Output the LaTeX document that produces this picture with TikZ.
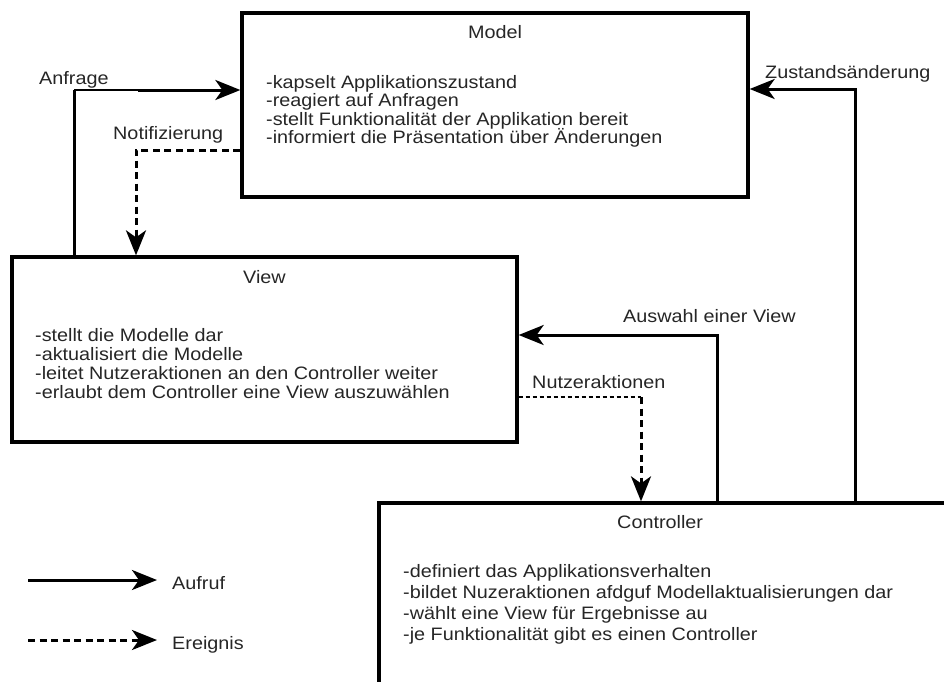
\documentclass[tikz,border=0pt]{standalone}
\usepackage{fontspec}
\setmainfont{Liberation Sans}[FakeStretch=1.1]
\usetikzlibrary{arrows.meta}
\tikzset{
  box/.style={draw, line width=3.3pt, fill=white, inner sep=0pt},
  txt/.style={inner sep=0pt, anchor=base west, text=black!85,
              font=\fontsize{18}{19}\selectfont},
  ttl/.style={txt, anchor=base},
  tip/.style={-{Stealth[length=25pt, width=20pt, inset=7pt]}},
  call/.style={line width=3pt, tip},
  wire/.style={line width=3pt},
  thinwire/.style={line width=1.2pt},
  event/.style={line width=3pt, dash pattern=on 7pt off 4.5pt},
  eventarrow/.style={event, tip},
  thinevent/.style={line width=1.2pt, dash pattern=on 4pt off 3pt},
}
\begin{document}
\begin{tikzpicture}[x=1pt, y=-1pt]
\useasboundingbox (0,0) rectangle (944,681);
\clip (0,0) rectangle (944,681);
\fill[white] (0,0) rectangle (944,681);

% the three components
\node[box, minimum width=506pt, minimum height=184pt] (model) at (495,105) {};
\node[box, minimum width=505pt, minimum height=185pt] (view) at (264.5,349.5) {};
\node[box, minimum width=621pt, minimum height=217pt] (ctrl) at (689.5,611.5) {};

% Model
\node[ttl] (modeltitle) at (495,38) {Model};
\node[txt] (m1) at (266,88)    {-kapselt Applikationszustand};
\node[txt] (m2) at (266,106.5) {-reagiert auf Anfragen};
\node[txt] (m3) at (266,125)   {-stellt Funktionalität der Applikation bereit};
\node[txt] (m4) at (266,143.5) {-informiert die Präsentation über Änderungen};

% View
\node[ttl] (viewtitle) at (264.5,283) {View};
\node[txt] (v1) at (35,341) {-stellt die Modelle dar};
\node[txt] (v2) at (35,360) {-aktualisiert die Modelle};
\node[txt] (v3) at (35,379) {-leitet Nutzeraktionen an den Controller weiter};
\node[txt] (v4) at (35,398) {-erlaubt dem Controller eine View auszuwählen};

% Controller
\node[txt] (ctrltitle) at (617,528) {Controller};
\node[txt] (c1) at (403,577) {-definiert das Applikationsverhalten};
\node[txt] (c2) at (403,598) {-bildet Nuzeraktionen afdguf Modellaktualisierungen dar};
\node[txt] (c3) at (403,619) {-wählt eine View für Ergebnisse au};
\node[txt] (c4) at (403,640) {-je Funktionalität gibt es einen Controller};

% bend points of the connectors
\coordinate (anfk) at (74,90);
\coordinate (anfm) at (138,90);
\coordinate (notk) at (136,150);
\coordinate (zusk) at (855,89);
\coordinate (ausk) at (717,335);
\coordinate (nutk) at (641,397);

% Anfrage: View -> Model
\draw[wire] (anfk |- view.north) -- (anfk);
\draw[thinwire] (anfk) -- (anfm);
\draw[call] (anfm) -- (anfm -| model.west);
\node[txt] (anflabel) at (39,84.5) {Anfrage};

% Notifizierung: Model -> View
\draw[eventarrow] (notk -| model.west) -- (notk) -- (notk |- view.north);
\node[txt] (notlabel) at (113,139) {Notifizierung};

% Zustandsaenderung: Controller -> Model
\draw[call] (zusk |- ctrl.north) -- (zusk) -- (zusk -| model.east);
\node[txt] (zuslabel) at (765,78) {Zustandsänderung};

% Auswahl einer View: Controller -> View
\draw[call] (ausk |- ctrl.north) -- (ausk) -- (ausk -| view.east);
\node[txt] (auslabel) at (623,322) {Auswahl einer View};

% Nutzeraktionen: View -> Controller
\draw[thinevent] (nutk -| view.east) -- (nutk);
\draw[eventarrow] (nutk) -- (nutk |- ctrl.north);
\node[txt] (nutlabel) at (532,388) {Nutzeraktionen};

% legend
\coordinate (la) at (28,580);
\coordinate (lb) at (157,580);
\coordinate (lc) at (28,640);
\coordinate (ld) at (157,640);
\draw[call] (la) -- (lb);
\draw[eventarrow] (lc) -- (ld);
\node[txt] (aufruf) at (172,589) {Aufruf};
\node[txt] (ereignis) at (172,649) {Ereignis};
\end{tikzpicture}
\end{document}
